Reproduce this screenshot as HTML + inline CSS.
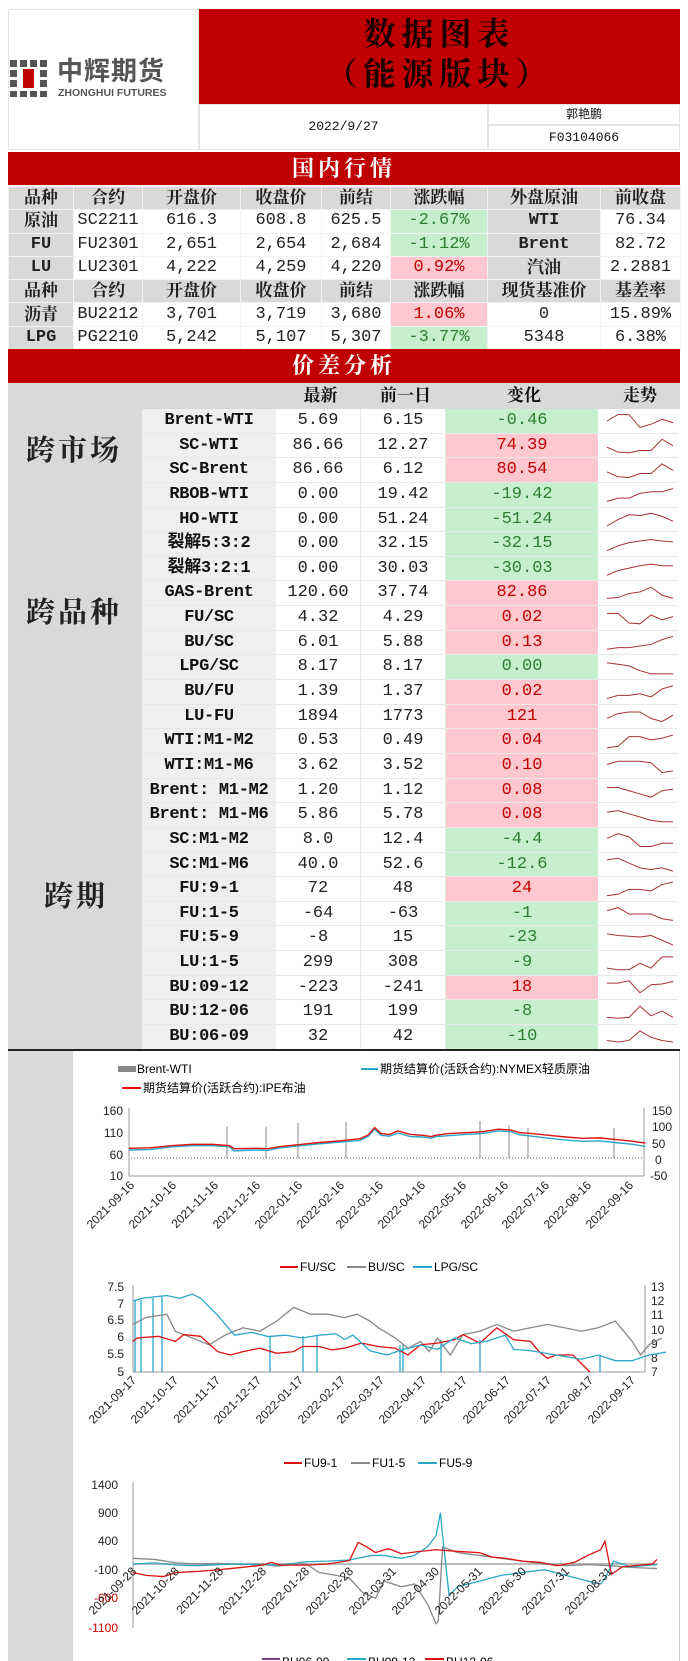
<!DOCTYPE html>
<html><head><meta charset="utf-8">
<style>
*{margin:0;padding:0;box-sizing:border-box}
body{width:688px;height:1661px;background:#fff;position:relative;overflow:hidden;font-family:"Liberation Sans","Noto Sans CJK SC",sans-serif;color:#111}
.a{position:absolute}
.red{background:#c00000}
.band{color:#fff;font-family:"Liberation Serif","Noto Serif CJK SC",serif;font-size:22px;text-align:center;font-weight:bold;letter-spacing:4px}
table.t{position:absolute;left:8px;top:186px;width:672px;border-collapse:collapse;table-layout:fixed}
table.t td{height:23.3px;border:1px solid #f2f2f2;text-align:center;font-family:"Liberation Mono","Noto Sans CJK SC",monospace;font-size:17px;line-height:20px;padding:0;white-space:nowrap;overflow:hidden;color:#222}
.h td{background:#d9d9d9;font-family:"Liberation Serif","Noto Serif CJK SC",serif!important;font-weight:bold}
.gy{background:#d9d9d9;font-weight:bold}
table.t td.gn,.gn{background:#c6efce;color:#2e7d32}
table.t td.pk,.pk{background:#ffc7ce;color:#c00000}
.sp{position:absolute;left:8px;top:409px;width:672px}
.r{display:flex;height:24.65px}
.r span{display:block;text-align:center;font-family:"Liberation Mono","Noto Sans CJK SC",monospace;font-size:17px;line-height:24px;border-bottom:1px solid #e8e8e8;white-space:nowrap;overflow:hidden;color:#222}
.r span.gn{color:#2e7d32}.r span.pk{color:#c00000}
.r .n{width:134px;margin-left:134px;background:#efefef;font-weight:bold;letter-spacing:-0.3px;color:#111}
.r .v{width:85px;background:#fff;border-right:1px solid #e8e8e8}
.r .c{width:152px}
.r .w{width:80px;background:#fff}
.cat{position:absolute;font-family:"Liberation Serif","Noto Serif CJK SC",serif;font-size:29px;font-weight:bold;color:#222;letter-spacing:3px}
.hd{position:absolute;top:383px;font-family:"Liberation Serif","Noto Serif CJK SC",serif;font-size:17px;font-weight:bold;line-height:26px}
svg text{font-family:"Liberation Sans","Noto Sans CJK SC",sans-serif}
</style></head><body>

<div class="a" style="left:8px;top:9px;width:191px;height:141px;border:1px solid #e4e4e4"></div>
<div class="a red" style="left:199px;top:9px;width:481px;height:95px"></div>
<div class="a" style="left:199px;top:14px;width:481px;text-align:center;font-family:'Liberation Serif','Noto Serif CJK SC',serif;font-size:32px;font-weight:bold;color:#1a0000;letter-spacing:6px;line-height:40px">数据图表<br>（能源版块）</div>
<div class="a" style="left:199px;top:104px;width:289px;height:46px;border:1px solid #e4e4e4;text-align:center;font-family:'Liberation Mono',monospace;font-size:13px;line-height:44px">2022/9/27</div>
<div class="a" style="left:488px;top:104px;width:192px;height:21px;border:1px solid #e4e4e4;text-align:center;font-size:12px;line-height:19px;font-family:'Liberation Sans','Noto Sans CJK SC',sans-serif">郭艳鹏</div>
<div class="a" style="left:488px;top:125px;width:192px;height:25px;border:1px solid #e4e4e4;text-align:center;font-family:'Liberation Mono',monospace;font-size:13px;line-height:24px">F03104066</div>
<svg class="a" style="left:10px;top:60px" width="40" height="38">
<g fill="#555"><rect x="0" y="0" width="7" height="7"/><rect x="10" y="0" width="7" height="7"/><rect x="20" y="0" width="7" height="7"/><rect x="30" y="0" width="7" height="7"/>
<rect x="0" y="10" width="7" height="7"/><rect x="30" y="10" width="7" height="7"/><rect x="0" y="20" width="7" height="7"/><rect x="30" y="20" width="7" height="7"/>
<rect x="0" y="31" width="7" height="6"/><rect x="10" y="31" width="7" height="6"/><rect x="20" y="31" width="7" height="6"/><rect x="30" y="31" width="7" height="6"/></g>
<rect x="13" y="9" width="11" height="19" fill="#c00000"/></svg>
<div class="a" style="left:57px;top:57px;font-size:26px;line-height:28px;font-weight:bold;color:#555;letter-spacing:1px;font-family:'Liberation Sans','Noto Sans CJK SC',sans-serif">中辉期货</div>
<div class="a" style="left:58px;top:88px;font-size:10.5px;line-height:11px;font-weight:bold;color:#555">ZHONGHUI FUTURES</div>

<div class="a red band" style="left:8px;top:152px;width:672px;height:33px;line-height:33px">国内行情</div>

<table class="t">
<colgroup><col style="width:65px"><col style="width:69px"><col style="width:98px"><col style="width:81px"><col style="width:69px"><col style="width:97px"><col style="width:113px"><col style="width:80px"></colgroup>
<tr class="h"><td>品种</td><td>合约</td><td>开盘价</td><td>收盘价</td><td>前结</td><td>涨跌幅</td><td>外盘原油</td><td>前收盘</td></tr>
<tr><td class="gy" style="font-family:'Liberation Serif','Noto Serif CJK SC',serif">原油</td><td>SC2211</td><td>616.3</td><td>608.8</td><td>625.5</td><td class="gn">-2.67%</td><td class="gy">WTI</td><td>76.34</td></tr>
<tr><td class="gy">FU</td><td>FU2301</td><td>2,651</td><td>2,654</td><td>2,684</td><td class="gn">-1.12%</td><td class="gy">Brent</td><td>82.72</td></tr>
<tr><td class="gy">LU</td><td>LU2301</td><td>4,222</td><td>4,259</td><td>4,220</td><td class="pk">0.92%</td><td class="gy" style="font-family:'Liberation Serif','Noto Serif CJK SC',serif">汽油</td><td>2.2881</td></tr>
<tr class="h"><td>品种</td><td>合约</td><td>开盘价</td><td>收盘价</td><td>前结</td><td>涨跌幅</td><td>现货基准价</td><td>基差率</td></tr>
<tr><td class="gy" style="font-family:'Liberation Serif','Noto Serif CJK SC',serif">沥青</td><td>BU2212</td><td>3,701</td><td>3,719</td><td>3,680</td><td class="pk">1.06%</td><td>0</td><td>15.89%</td></tr>
<tr><td class="gy">LPG</td><td>PG2210</td><td>5,242</td><td>5,107</td><td>5,307</td><td class="gn">-3.77%</td><td>5348</td><td>6.38%</td></tr>
</table>

<div class="a red band" style="left:8px;top:349px;width:672px;height:34px;line-height:34px">价差分析</div>
<div class="a" style="left:8px;top:383px;width:672px;height:26px;background:#d9d9d9"></div>
<div class="a" style="left:8px;top:409px;width:134px;height:641px;background:#d9d9d9"></div>
<div class="hd" style="left:278px;width:85px;text-align:center">最新</div>
<div class="hd" style="left:363px;width:85px;text-align:center">前一日</div>
<div class="hd" style="left:448px;width:152px;text-align:center">变化</div>
<div class="hd" style="left:600px;width:80px;text-align:center">走势</div>
<div class="cat" style="left:26px;top:428px">跨市场</div>
<div class="cat" style="left:26px;top:590px">跨品种</div>
<div class="cat" style="left:44px;top:874px">跨期</div>

<div class="sp">
<div class="r"><span class="n">Brent-WTI</span><span class="v">5.69</span><span class="v">6.15</span><span class="c gn">-0.46</span><span class="w"></span></div>
<div class="r"><span class="n">SC-WTI</span><span class="v">86.66</span><span class="v">12.27</span><span class="c pk">74.39</span><span class="w"></span></div>
<div class="r"><span class="n">SC-Brent</span><span class="v">86.66</span><span class="v">6.12</span><span class="c pk">80.54</span><span class="w"></span></div>
<div class="r"><span class="n">RBOB-WTI</span><span class="v">0.00</span><span class="v">19.42</span><span class="c gn">-19.42</span><span class="w"></span></div>
<div class="r"><span class="n">HO-WTI</span><span class="v">0.00</span><span class="v">51.24</span><span class="c gn">-51.24</span><span class="w"></span></div>
<div class="r"><span class="n">裂解5:3:2</span><span class="v">0.00</span><span class="v">32.15</span><span class="c gn">-32.15</span><span class="w"></span></div>
<div class="r"><span class="n">裂解3:2:1</span><span class="v">0.00</span><span class="v">30.03</span><span class="c gn">-30.03</span><span class="w"></span></div>
<div class="r"><span class="n">GAS-Brent</span><span class="v">120.60</span><span class="v">37.74</span><span class="c pk">82.86</span><span class="w"></span></div>
<div class="r"><span class="n">FU/SC</span><span class="v">4.32</span><span class="v">4.29</span><span class="c pk">0.02</span><span class="w"></span></div>
<div class="r"><span class="n">BU/SC</span><span class="v">6.01</span><span class="v">5.88</span><span class="c pk">0.13</span><span class="w"></span></div>
<div class="r"><span class="n">LPG/SC</span><span class="v">8.17</span><span class="v">8.17</span><span class="c gn">0.00</span><span class="w"></span></div>
<div class="r"><span class="n">BU/FU</span><span class="v">1.39</span><span class="v">1.37</span><span class="c pk">0.02</span><span class="w"></span></div>
<div class="r"><span class="n">LU-FU</span><span class="v">1894</span><span class="v">1773</span><span class="c pk">121</span><span class="w"></span></div>
<div class="r"><span class="n">WTI:M1-M2</span><span class="v">0.53</span><span class="v">0.49</span><span class="c pk">0.04</span><span class="w"></span></div>
<div class="r"><span class="n">WTI:M1-M6</span><span class="v">3.62</span><span class="v">3.52</span><span class="c pk">0.10</span><span class="w"></span></div>
<div class="r"><span class="n">Brent: M1-M2</span><span class="v">1.20</span><span class="v">1.12</span><span class="c pk">0.08</span><span class="w"></span></div>
<div class="r"><span class="n">Brent: M1-M6</span><span class="v">5.86</span><span class="v">5.78</span><span class="c pk">0.08</span><span class="w"></span></div>
<div class="r"><span class="n">SC:M1-M2</span><span class="v">8.0</span><span class="v">12.4</span><span class="c gn">-4.4</span><span class="w"></span></div>
<div class="r"><span class="n">SC:M1-M6</span><span class="v">40.0</span><span class="v">52.6</span><span class="c gn">-12.6</span><span class="w"></span></div>
<div class="r"><span class="n">FU:9-1</span><span class="v">72</span><span class="v">48</span><span class="c pk">24</span><span class="w"></span></div>
<div class="r"><span class="n">FU:1-5</span><span class="v">-64</span><span class="v">-63</span><span class="c gn">-1</span><span class="w"></span></div>
<div class="r"><span class="n">FU:5-9</span><span class="v">-8</span><span class="v">15</span><span class="c gn">-23</span><span class="w"></span></div>
<div class="r"><span class="n">LU:1-5</span><span class="v">299</span><span class="v">308</span><span class="c gn">-9</span><span class="w"></span></div>
<div class="r"><span class="n">BU:09-12</span><span class="v">-223</span><span class="v">-241</span><span class="c pk">18</span><span class="w"></span></div>
<div class="r"><span class="n">BU:12-06</span><span class="v">191</span><span class="v">199</span><span class="c gn">-8</span><span class="w"></span></div>
<div class="r"><span class="n">BU:06-09</span><span class="v">32</span><span class="v">42</span><span class="c gn">-10</span><span class="w"></span></div>
</div>

<div class="a" style="left:8px;top:1049px;width:672px;height:2px;background:#222"></div>
<div class="a" style="left:8px;top:1051px;width:65px;height:610px;background:#d9d9d9"></div>
<div class="a" style="left:679px;top:1051px;width:1px;height:610px;background:#ccc"></div>

<svg class="a" style="left:0;top:0" width="688" height="1661">
<g fill="none" stroke="#a83232" stroke-width="1">
<g transform="translate(607,413) scale(11,16)"><polyline vector-effect="non-scaling-stroke" points="0,.5 1,.1 2,.1 3,.9 4,.7 5,.4 6,.6"/></g>
<g transform="translate(607,437.65) scale(11,16)"><polyline vector-effect="non-scaling-stroke" points="0,.6 1,.9 2,.95 3,.8 4,.8 5,.1 6,.5"/></g>
<g transform="translate(607,462.3) scale(11,16)"><polyline vector-effect="non-scaling-stroke" points="0,.6 1,.9 2,.95 3,.7 4,.7 5,.1 6,.5"/></g>
<g transform="translate(607,486.95) scale(11,16)"><polyline vector-effect="non-scaling-stroke" points="0,.9 1,.7 2,.7 3,.4 4,.3 5,.3 6,.1"/></g>
<g transform="translate(607,511.6) scale(11,16)"><polyline vector-effect="non-scaling-stroke" points="0,.9 1,.5 2,.2 3,.25 4,.1 5,.3 6,.6"/></g>
<g transform="translate(607,536.25) scale(11,16)"><polyline vector-effect="non-scaling-stroke" points="0,.9 1,.6 2,.4 3,.3 4,.2 5,.3 6,.35"/></g>
<g transform="translate(607,560.9) scale(11,16)"><polyline vector-effect="non-scaling-stroke" points="0,.9 1,.6 2,.45 3,.3 4,.2 5,.3 6,.3"/></g>
<g transform="translate(607,585.55) scale(11,16)"><polyline vector-effect="non-scaling-stroke" points="0,.8 1,.75 2,.5 3,.4 4,.1 5,.6 6,.8"/></g>
<g transform="translate(607,610.2) scale(11,16)"><polyline vector-effect="non-scaling-stroke" points="0,.2 1,.2 2,.8 3,.85 4,.3 5,.6 6,.4"/></g>
<g transform="translate(607,634.85) scale(11,16)"><polyline vector-effect="non-scaling-stroke" points="0,.9 1,.8 2,.8 3,.7 4,.6 5,.3 6,.1"/></g>
<g transform="translate(607,659.5) scale(11,16)"><polyline vector-effect="non-scaling-stroke" points="0,.2 1,.3 2,.4 3,.7 4,.9 5,.9 6,.9"/></g>
<g transform="translate(607,684.15) scale(11,16)"><polyline vector-effect="non-scaling-stroke" points="0,.9 1,.7 2,.7 3,.6 4,.8 5,.3 6,.1"/></g>
<g transform="translate(607,708.8) scale(11,16)"><polyline vector-effect="non-scaling-stroke" points="0,.6 1,.3 2,.2 3,.2 4,.6 5,.8 6,.4"/></g>
<g transform="translate(607,733.45) scale(11,16)"><polyline vector-effect="non-scaling-stroke" points="0,.9 1,.8 2,.2 3,.2 4,.4 5,.3 6,.1"/></g>
<g transform="translate(607,758.1) scale(11,16)"><polyline vector-effect="non-scaling-stroke" points="0,.4 1,.2 2,.2 3,.2 4,.3 5,.9 6,.8"/></g>
<g transform="translate(607,782.75) scale(11,16)"><polyline vector-effect="non-scaling-stroke" points="0,.3 1,.3 2,.5 3,.7 4,.9 5,.5 6,.4"/></g>
<g transform="translate(607,807.4) scale(11,16)"><polyline vector-effect="non-scaling-stroke" points="0,.3 1,.2 2,.4 3,.6 4,.8 5,.9 6,.9"/></g>
<g transform="translate(607,832.05) scale(11,16)"><polyline vector-effect="non-scaling-stroke" points="0,.4 1,.1 2,.3 3,.9 4,.9 5,.7 6,.7"/></g>
<g transform="translate(607,856.7) scale(11,16)"><polyline vector-effect="non-scaling-stroke" points="0,.2 1,.1 2,.4 3,.7 4,.8 5,.7 6,.9"/></g>
<g transform="translate(607,881.35) scale(11,16)"><polyline vector-effect="non-scaling-stroke" points="0,.9 1,.8 2,.5 3,.5 4,.6 5,.2 6,.05"/></g>
<g transform="translate(607,906) scale(11,16)"><polyline vector-effect="non-scaling-stroke" points="0,.3 1,.1 2,.5 3,.5 4,.5 5,.8 6,.9"/></g>
<g transform="translate(607,930.65) scale(11,16)"><polyline vector-effect="non-scaling-stroke" points="0,.2 1,.3 2,.35 3,.4 4,.3 5,.6 6,.9"/></g>
<g transform="translate(607,955.3) scale(11,16)"><polyline vector-effect="non-scaling-stroke" points="0,.8 1,.9 2,.9 3,.5 4,.8 5,.1 6,.1"/></g>
<g transform="translate(607,979.95) scale(11,16)"><polyline vector-effect="non-scaling-stroke" points="0,.2 1,.2 2,.05 3,.8 4,.3 5,.25 6,.1"/></g>
<g transform="translate(607,1004.6) scale(11,16)"><polyline vector-effect="non-scaling-stroke" points="0,.8 1,.85 2,.8 3,.1 4,.7 5,.4 6,.8"/></g>
<g transform="translate(607,1029.25) scale(11,16)"><polyline vector-effect="non-scaling-stroke" points="0,.7 1,.8 2,.7 3,.1 4,.5 5,.7 6,.8"/></g>
</g>

<g font-size="12">
<rect x="118" y="1066" width="18" height="6" fill="#888"/><text x="137" y="1073">Brent-WTI</text>
<line x1="361" y1="1069" x2="378" y2="1069" stroke="#2aa7c9" stroke-width="2"/><text x="380" y="1073">期货结算价(活跃合约):NYMEX轻质原油</text>
<line x1="122" y1="1088" x2="141" y2="1088" stroke="#d11" stroke-width="2"/><text x="143" y="1092">期货结算价(活跃合约):IPE布油</text>
</g>
<g stroke="#999" stroke-width="1" fill="none">
<line x1="129" y1="1108" x2="129" y2="1176"/><line x1="129" y1="1176" x2="644" y2="1176"/><line x1="644" y1="1108" x2="644" y2="1176"/>
</g>
<g font-size="12" text-anchor="end" fill="#222"><text x="123" y="1115">160</text><text x="123" y="1137">110</text><text x="123" y="1159">60</text><text x="123" y="1180">10</text></g>
<g font-size="12" fill="#222"><text x="652" y="1115">150</text><text x="652" y="1131">100</text><text x="652" y="1148">50</text><text x="655" y="1164">0</text><text x="650" y="1180">-50</text></g>
<line x1="131" y1="1158" x2="644" y2="1158" stroke="#666" stroke-dasharray="1 2"/>
<g stroke="#888" stroke-width="1"><line x1="227" y1="1158" x2="227" y2="1126"/><line x1="266" y1="1158" x2="266" y2="1127"/><line x1="298" y1="1158" x2="298" y2="1123"/><line x1="346" y1="1158" x2="346" y2="1122"/><line x1="480" y1="1158" x2="480" y2="1121"/><line x1="509" y1="1158" x2="509" y2="1125"/><line x1="528" y1="1158" x2="528" y2="1128"/><line x1="614" y1="1158" x2="614" y2="1128"/></g>
<g transform="translate(129,1180.33) scale(42,-0.4333)" fill="none">
<polyline vector-effect="non-scaling-stroke" stroke="#2aa7c9" stroke-width="1.4" points="0,70 .5,71 1,77 1.5,80 2,80 2.4,77 2.5,68 3,70 3.3,69 3.6,75 4,79 4.5,84 5,88 5.5,92 5.7,102 5.85,118 6,104 6.2,102 6.4,109 6.7,101 7,100 7.2,97 7.3,101 7.6,103 8,106 8.4,108 8.8,114 9.1,112 9.3,105 9.6,102 10,97 10.4,93 10.8,90 11.2,91 11.6,87 12,83 12.3,78"/>
<polyline vector-effect="non-scaling-stroke" stroke="#d11" stroke-width="1.4" points="0,74 .5,75 1,80 1.5,83 2,83 2.4,80 2.5,73 3,74 3.3,73 3.6,78 4,82 4.5,87 5,91 5.5,96 5.7,105 5.85,122 6,108 6.2,106 6.4,114 6.7,106 7,104 7.2,101 7.3,104 7.6,108 8,110 8.4,112 8.8,118 9.1,116 9.3,110 9.6,108 10,104 10.4,100 10.8,97 11.2,98 11.6,94 12,90 12.3,86"/>
</g>
<g font-size="12" fill="#222" text-anchor="end">
<text transform="translate(135,1186) rotate(-45)">2021-09-16</text><text transform="translate(177,1186) rotate(-45)">2021-10-16</text><text transform="translate(219,1186) rotate(-45)">2021-11-16</text><text transform="translate(261,1186) rotate(-45)">2021-12-16</text><text transform="translate(303,1186) rotate(-45)">2022-01-16</text><text transform="translate(345,1186) rotate(-45)">2022-02-16</text><text transform="translate(384,1186) rotate(-45)">2022-03-16</text><text transform="translate(426,1186) rotate(-45)">2022-04-16</text><text transform="translate(467,1186) rotate(-45)">2022-05-16</text><text transform="translate(509,1186) rotate(-45)">2022-06-16</text><text transform="translate(550,1186) rotate(-45)">2022-07-16</text><text transform="translate(592,1186) rotate(-45)">2022-08-16</text><text transform="translate(634,1186) rotate(-45)">2022-09-16</text>
</g>

<g font-size="12">
<line x1="280" y1="1267" x2="298" y2="1267" stroke="#d11" stroke-width="2"/><text x="300" y="1271">FU/SC</text>
<line x1="347" y1="1267" x2="366" y2="1267" stroke="#888" stroke-width="2"/><text x="368" y="1271">BU/SC</text>
<line x1="413" y1="1267" x2="432" y2="1267" stroke="#2aa7c9" stroke-width="2"/><text x="434" y="1271">LPG/SC</text>
</g>
<g stroke="#999" fill="none"><line x1="133" y1="1285" x2="133" y2="1372"/><line x1="133" y1="1372" x2="645" y2="1372"/><line x1="645" y1="1285" x2="645" y2="1372"/></g>
<g font-size="12" text-anchor="end" fill="#222"><text x="124" y="1291">7.5</text><text x="124" y="1308">7</text><text x="124" y="1324">6.5</text><text x="124" y="1341">6</text><text x="124" y="1358">5.5</text><text x="124" y="1376">5</text></g>
<g font-size="12" fill="#222"><text x="651" y="1291">13</text><text x="651" y="1305">12</text><text x="651" y="1319">11</text><text x="651" y="1334">10</text><text x="651" y="1348">9</text><text x="651" y="1362">8</text><text x="651" y="1376">7</text></g>
<g stroke="#2aa7c9" stroke-width="1.3"><line x1="135" y1="1300" x2="135" y2="1372"/><line x1="141" y1="1300" x2="141" y2="1372"/><line x1="153" y1="1298" x2="153" y2="1372"/><line x1="162" y1="1296" x2="162" y2="1372"/><line x1="270" y1="1336" x2="270" y2="1372"/><line x1="303" y1="1336" x2="303" y2="1372"/><line x1="317" y1="1336" x2="317" y2="1372"/><line x1="400" y1="1345" x2="400" y2="1372"/><line x1="403" y1="1345" x2="403" y2="1372"/><line x1="441" y1="1340" x2="441" y2="1372"/><line x1="480" y1="1340" x2="480" y2="1372"/><line x1="600" y1="1355" x2="600" y2="1372"/></g>
<g transform="translate(133,1542) scale(42.3,-34)" fill="none">
<polyline vector-effect="non-scaling-stroke" stroke="#888" stroke-width="1.3" points="0,6.4 .3,6.6 .8,6.7 1,6.2 1.4,6 1.8,5.8 2.2,6.1 2.6,6.3 3,6.2 3.4,6.5 3.8,6.9 4.2,6.7 4.6,6.7 5,6.6 5.3,6.7 5.6,6.5 5.8,6.3 6.2,6 6.5,5.7 6.8,5.9 7,5.6 7.2,6 7.5,5.5 7.8,6.1 8.2,6.2 8.6,6.4 9,6.2 9.4,6.3 9.8,6.4 10.2,6.3 10.6,6.2 11,6.3 11.4,6.5 11.6,6.2 11.8,5.9 12,5.5 12.2,5.8 12.5,6"/>
<polyline vector-effect="non-scaling-stroke" stroke="#d11" stroke-width="1.3" points="0,5.9 .1,6 .6,6.05 1,5.9 1.2,6.1 1.6,6.05 2,5.6 2.3,5.5 2.6,5.6 3,5.7 3.4,5.55 3.8,5.6 4,5.75 4.4,5.75 4.7,5.65 5,5.7 5.4,5.85 5.8,5.75 6.2,5.7 6.5,5.5 6.8,5.8 7.2,5.85 7.6,5.95 7.8,6.1 8.2,5.85 8.6,6.3 9,5.95 9.4,5.9 9.6,5.6 9.8,5.4 10,5.5 10.4,5.5 10.8,5"/>
</g>
<g transform="translate(133,1471.2) scale(42.3,-14.17)" fill="none">
<polyline vector-effect="non-scaling-stroke" stroke="#2aa7c9" stroke-width="1.3" points="0,12 .2,12.2 .5,12.3 .8,12.4 1.1,12.2 1.4,12.5 1.6,12.2 2,11 2.4,9.6 2.8,9.8 3.2,9.5 3.6,9.6 4,9.4 4.4,9.6 4.8,9.7 5,9.3 5.2,9.6 5.6,8.5 6,8.2 6.4,8.6 6.8,8.9 7.2,8.6 7.6,9.4 8,9 8.4,9.2 8.8,9.6 9,8.6 9.4,8.5 9.8,8.3 10.2,8.1 10.6,7.9 11,8.2 11.4,7.8 11.8,7.8 12.2,8.2 12.6,8.4"/>
</g>
<g font-size="12" fill="#222" text-anchor="end">
<text transform="translate(137,1381) rotate(-45)">2021-09-17</text><text transform="translate(179,1381) rotate(-45)">2021-10-17</text><text transform="translate(221,1381) rotate(-45)">2021-11-17</text><text transform="translate(262,1381) rotate(-45)">2021-12-17</text><text transform="translate(304,1381) rotate(-45)">2022-01-17</text><text transform="translate(346,1381) rotate(-45)">2022-02-17</text><text transform="translate(385,1381) rotate(-45)">2022-03-17</text><text transform="translate(427,1381) rotate(-45)">2022-04-17</text><text transform="translate(468,1381) rotate(-45)">2022-05-17</text><text transform="translate(511,1381) rotate(-45)">2022-06-17</text><text transform="translate(552,1381) rotate(-45)">2022-07-17</text><text transform="translate(594,1381) rotate(-45)">2022-08-17</text><text transform="translate(636,1381) rotate(-45)">2022-09-17</text>
</g>

<g font-size="12">
<line x1="284" y1="1463" x2="302" y2="1463" stroke="#d11" stroke-width="2"/><text x="304" y="1467">FU9-1</text>
<line x1="351" y1="1463" x2="370" y2="1463" stroke="#888" stroke-width="2"/><text x="372" y="1467">FU1-5</text>
<line x1="418" y1="1463" x2="437" y2="1463" stroke="#2aa7c9" stroke-width="2"/><text x="439" y="1467">FU5-9</text>
</g>
<line x1="133" y1="1482" x2="133" y2="1628" stroke="#999"/>
<line x1="133" y1="1564" x2="658" y2="1564" stroke="#bbb" stroke-width="2"/>
<g font-size="12" text-anchor="end" fill="#222"><text x="118" y="1489">1400</text><text x="118" y="1517">900</text><text x="118" y="1545">400</text><text x="118" y="1574">-100</text><text x="118" y="1602" fill="#c00">-600</text><text x="118" y="1632" fill="#c00">-1100</text></g>
<g transform="translate(133,1564) scale(43.3,-0.057)" fill="none" stroke-width="1.3">
<polyline vector-effect="non-scaling-stroke" stroke="#888" points="0,100 .5,80 1,20 1.5,0 2,10 2.5,-10 3,0 3.3,-40 3.7,-10 4,0 4.3,-150 4.7,-200 5,-250 5.3,-500 5.6,-600 5.8,-300 6.2,-400 6.5,-350 6.8,-700 7,-1050 7.05,-1000 7.15,300 7.5,200 8,150 8.5,100 9,50 9.5,0 10,-30 10.5,-10 11,-30 11.5,-60 12.1,-80"/>
<polyline vector-effect="non-scaling-stroke" stroke="#2aa7c9" points="0,0 .5,20 1,-20 1.5,-30 2,-10 2.5,0 3,-20 3.5,-10 4,40 4.5,50 5,70 5.5,150 5.8,150 6.2,100 6.5,150 6.8,300 7,500 7.1,900 7.15,500 7.3,-550 7.5,-400 8,-300 8.5,-200 9,-150 9.5,-100 10,-200 10.5,-300 10.8,-350 10.9,-250 11.1,50 11.5,-50 12.1,-10"/>
<polyline vector-effect="non-scaling-stroke" stroke="#d11" points="0,-150 .3,-200 .7,-220 1,-150 1.5,-130 2,-100 2.5,-60 3,-20 3.2,30 3.4,-20 4,-20 4.5,0 5,60 5.2,380 5.4,300 5.6,200 5.9,270 6.2,180 6.6,220 7,250 7.5,220 8,200 8.3,120 8.6,100 9,50 9.4,30 9.8,-30 10.2,30 10.5,150 10.8,250 10.9,400 11.05,-180 11.3,-50 11.7,-20 12,0 12.1,80"/>
</g>
<g font-size="12" fill="#222" text-anchor="end">
<text transform="translate(137,1572) rotate(-45)">2021-09-28</text><text transform="translate(180,1572) rotate(-45)">2021-10-28</text><text transform="translate(224,1572) rotate(-45)">2021-11-28</text><text transform="translate(267,1572) rotate(-45)">2021-12-28</text><text transform="translate(310,1572) rotate(-45)">2022-01-28</text><text transform="translate(354,1572) rotate(-45)">2022-02-28</text><text transform="translate(397,1572) rotate(-45)">2022-03-31</text><text transform="translate(440,1572) rotate(-45)">2022-04-30</text><text transform="translate(483,1572) rotate(-45)">2022-05-31</text><text transform="translate(527,1572) rotate(-45)">2022-06-30</text><text transform="translate(570,1572) rotate(-45)">2022-07-31</text><text transform="translate(613,1572) rotate(-45)">2022-08-31</text>
</g>
<g font-size="12">
<line x1="262" y1="1659" x2="280" y2="1659" stroke="#7b3f8c" stroke-width="2"/><text x="282" y="1666">BU06-09</text>
<line x1="347" y1="1659" x2="366" y2="1659" stroke="#2aa7c9" stroke-width="2"/><text x="368" y="1666">BU09-12</text>
<line x1="425" y1="1659" x2="444" y2="1659" stroke="#d11" stroke-width="2"/><text x="446" y="1666">BU12-06</text>
</g>
</svg>
</body></html>
